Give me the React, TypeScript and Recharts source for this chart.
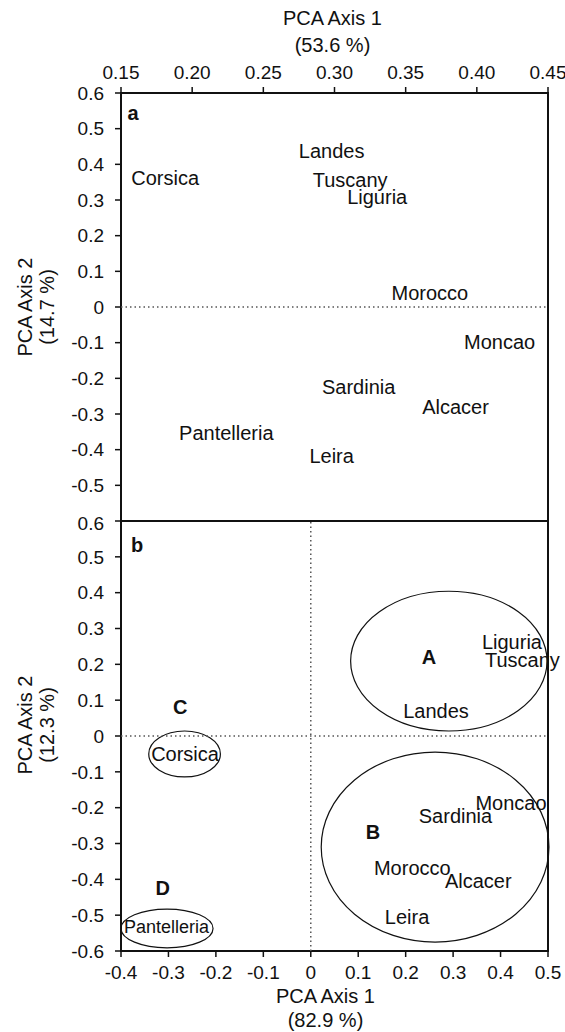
import React from "react";
import {
  ScatterChart,
  Scatter,
  XAxis,
  YAxis,
  ReferenceLine,
  ReferenceArea,
} from "recharts";

// panel a
const topNames = ["Landes", "Corsica", "Tuscany", "Liguria", "Morocco", "Moncao", "Sardinia", "Alcacer", "Pantelleria", "Leira"];
const topX = [0.298, 0.181, 0.311, 0.33, 0.367, 0.416, 0.317, 0.385, 0.224, 0.298];
const topY = [0.438, 0.361, 0.356, 0.308, 0.038, -0.099, -0.223, -0.281, -0.354, -0.418];
const topXTicks = [0.15, 0.2, 0.25, 0.3, 0.35, 0.4, 0.45];

// panel b
const botNames = ["Liguria", "Tuscany", "Landes", "Corsica", "Moncao", "Sardinia", "Morocco", "Alcacer", "Leira", "Pantelleria"];
const botX = [0.424, 0.446, 0.264, -0.265, 0.422, 0.305, 0.214, 0.353, 0.203, -0.304];
const botY = [0.263, 0.212, 0.071, -0.051, -0.186, -0.223, -0.367, -0.404, -0.506, -0.532];
const botXTicks = [-0.4, -0.3, -0.2, -0.1, 0, 0.1, 0.2, 0.3, 0.4, 0.5];

const groupNames = ["A", "B", "C", "D"];
const groupX = [0.249, 0.131, -0.275, -0.312];
const groupY = [0.221, -0.267, 0.08, -0.423];

// ellipses around groups: center and half-axes
const ellCx = [0.291, 0.262, -0.266, -0.303];
const ellCy = [0.209, -0.31, -0.05, -0.537];
const ellRx = [0.207, 0.24, 0.0755, 0.097];
const ellRy = [0.195, 0.265, 0.064, 0.054];

const yTicks = [-0.6, -0.5, -0.4, -0.3, -0.2, -0.1, 0, 0.1, 0.2, 0.3, 0.4, 0.5, 0.6];

const topData = topNames.map((name, i) => ({ name, x: topX[i], y: topY[i] }));
const botData = botNames.map((name, i) => ({ name, x: botX[i], y: botY[i] }));
const groupData = groupNames.map((name, i) => ({ name, x: groupX[i], y: groupY[i] }));
const panelA = [{ name: "a", x: 0.1584, y: 0.544 }];
const panelB = [{ name: "b", x: -0.366, y: 0.533 }];

const FONT = "'Liberation Sans', Arial, Helvetica, sans-serif";
const fmt1 = (v: number) => (v === 0 ? "0" : v.toFixed(1));
const fmt2 = (v: number) => v.toFixed(2);

const NameShape = (props: any) => (
  <text
    x={props.cx}
    y={props.cy}
    textAnchor="middle"
    dominantBaseline="central"
    fontSize={props.payload.name === "Pantelleria" && props.small ? 18 : 20}
    fill="#111"
  >
    {props.payload.name}
  </text>
);

const BoldShape = (props: any) => (
  <text
    x={props.cx}
    y={props.cy}
    textAnchor="middle"
    dominantBaseline="central"
    fontSize={20}
    fontWeight="bold"
    fill="#111"
  >
    {props.payload.name}
  </text>
);

const EllipseShape = (p: any) => (
  <ellipse
    cx={p.x + p.width / 2}
    cy={p.y + p.height / 2}
    rx={Math.abs(p.width) / 2}
    ry={Math.abs(p.height) / 2}
    fill="none"
    stroke="#111"
    strokeWidth={1.2}
  />
);

const yTitle = (pct: string, shift: number) => (props: any) => {
  const { y, height } = props.viewBox;
  const cy = y + height / 2 + shift;
  return (
    <g fontSize={20} fill="#111">
      <text x={25} y={cy} textAnchor="middle" dominantBaseline="central" transform={`rotate(-90, 25, ${cy})`}>
        PCA Axis 2
      </text>
      <text x={47} y={cy} textAnchor="middle" dominantBaseline="central" transform={`rotate(-90, 47, ${cy})`}>
        {pct}
      </text>
    </g>
  );
};

const topXTitle = (props: any) => {
  const { x, y, width } = props.viewBox;
  const cx = x + width / 2 - 2;
  return (
    <g fontSize={20} fill="#111">
      <text x={cx} y={y - 45} textAnchor="middle" dominantBaseline="central">PCA Axis 1</text>
      <text x={cx} y={y - 18} textAnchor="middle" dominantBaseline="central">(53.6 %)</text>
    </g>
  );
};

const botXTitle = (props: any) => {
  const { x, y, width } = props.viewBox;
  const cx = x + width / 2 - 9;
  return (
    <g fontSize={20} fill="#111">
      <text x={cx} y={y + 45} textAnchor="middle" dominantBaseline="central">PCA Axis 1</text>
      <text x={cx} y={y + 69} textAnchor="middle" dominantBaseline="central">(82.9 %)</text>
    </g>
  );
};

const tickStyle = { fontSize: 19, fill: "#111" };
const tickLine = { stroke: "#111", strokeWidth: 1.5 };

const App: React.FC = () => {
  return (
    <div style={{ position: "absolute", left: 0, top: 0, width: 565, height: 1032, fontFamily: FONT, background: "#fff" }}>
      <div style={{ position: "absolute", left: 0, top: 0 }}>
        <ScatterChart width={565} height={530} margin={{ top: 63, right: 17, bottom: 9, left: 51 }}>
          <XAxis
            type="number"
            dataKey="x"
            orientation="top"
            domain={[0.15, 0.45]}
            ticks={topXTicks}
            tickFormatter={fmt2}
            height={30}
            axisLine={false}
            tickSize={6}
            tickMargin={8}
            tick={tickStyle}
            tickLine={tickLine}
            label={topXTitle}
          />
          <YAxis
            type="number"
            dataKey="y"
            domain={[-0.6, 0.6]}
            ticks={yTicks}
            tickFormatter={fmt1}
            width={70}
            axisLine={false}
            tickSize={6}
            tickMargin={11}
            tick={tickStyle}
            tickLine={tickLine}
            label={yTitle("(14.7 %)", 0)}
          />
          <ReferenceArea x1={0.15} x2={0.45} y1={-0.6} y2={0.6} fill="none" stroke="#111" strokeWidth={2} ifOverflow="visible" />
          <ReferenceLine y={0} stroke="#555" strokeDasharray="1.5 3" strokeWidth={1.5} />
          <Scatter data={topData} shape={<NameShape />} isAnimationActive={false} />
          <Scatter data={panelA} shape={<BoldShape />} isAnimationActive={false} />
        </ScatterChart>
      </div>
      <div style={{ position: "absolute", left: 0, top: 512 }}>
        <ScatterChart width={565} height={520} margin={{ top: 9, right: 17, bottom: 51, left: 51 }}>
          <XAxis
            type="number"
            dataKey="x"
            domain={[-0.4, 0.5]}
            ticks={botXTicks}
            tickFormatter={fmt1}
            height={30}
            axisLine={false}
            tickSize={6}
            tickMargin={9}
            tick={tickStyle}
            tickLine={tickLine}
            label={botXTitle}
          />
          <YAxis
            type="number"
            dataKey="y"
            domain={[-0.6, 0.6]}
            ticks={yTicks}
            tickFormatter={fmt1}
            width={70}
            axisLine={false}
            tickSize={6}
            tickMargin={11}
            tick={tickStyle}
            tickLine={tickLine}
            label={yTitle("(12.3 %)", -11)}
          />
          <ReferenceArea x1={-0.4} x2={0.5} y1={-0.6} y2={0.6} fill="none" stroke="#111" strokeWidth={2} ifOverflow="visible" />
          <ReferenceLine y={0} stroke="#555" strokeDasharray="1.5 3" strokeWidth={1.5} />
          <ReferenceLine x={0} stroke="#555" strokeDasharray="1.5 3" strokeWidth={1.5} />
          {ellCx.map((cx, i) => (
            <ReferenceArea
              key={i}
              x1={cx - ellRx[i]}
              x2={cx + ellRx[i]}
              y1={ellCy[i] - ellRy[i]}
              y2={ellCy[i] + ellRy[i]}
              ifOverflow="visible"
              shape={EllipseShape}
            />
          ))}
          <Scatter data={botData} shape={<NameShape small />} isAnimationActive={false} />
          <Scatter data={groupData} shape={<BoldShape />} isAnimationActive={false} />
          <Scatter data={panelB} shape={<BoldShape />} isAnimationActive={false} />
        </ScatterChart>
      </div>
    </div>
  );
};

export default App;
